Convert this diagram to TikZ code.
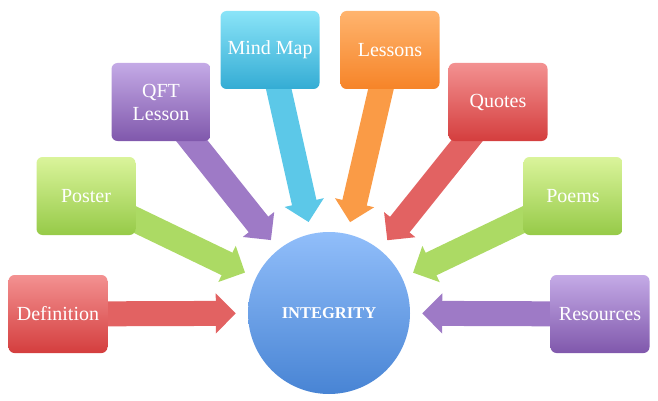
\documentclass[tikz,border=0pt]{standalone}
\usepackage{fontspec}
\setmainfont{Liberation Serif}
\usetikzlibrary{arrows.meta,backgrounds}

\definecolor{redtop}{RGB}{243,145,145}
\definecolor{redbot}{RGB}{212,62,62}
\definecolor{redarr}{RGB}{226,98,98}
\definecolor{greentop}{RGB}{218,244,155}
\definecolor{greenbot}{RGB}{150,202,72}
\definecolor{greenarr}{RGB}{172,218,100}
\definecolor{purpletop}{RGB}{196,170,230}
\definecolor{purplebot}{RGB}{128,88,172}
\definecolor{purplearr}{RGB}{158,122,198}
\definecolor{cyantop}{RGB}{138,228,248}
\definecolor{cyanbot}{RGB}{52,172,212}
\definecolor{cyanarr}{RGB}{92,200,232}
\definecolor{orangetop}{RGB}{255,180,110}
\definecolor{orangebot}{RGB}{246,132,40}
\definecolor{orangearr}{RGB}{250,155,70}
\definecolor{bluetop}{RGB}{145,190,250}
\definecolor{bluebot}{RGB}{72,132,212}

\begin{document}
\begin{tikzpicture}[x=1pt, y=-1pt,
        topic/.style={rectangle, rounded corners=6pt, minimum width=99pt, minimum height=78pt,
                text=white, align=center, inner sep=2pt, font=\fontsize{20}{23}\selectfont,
                top color=#1top, bottom color=#1bot},
        hub/.style={circle, minimum size=162pt, inner sep=0pt, text=white,
                font=\bfseries\fontsize{16.5}{19}\selectfont, top color=bluetop, bottom color=bluebot},
        feed/.style={draw=#1arr, line width=25pt, -{Triangle[length=20pt,width=39pt]}, shorten >=12pt}]
    \useasboundingbox (0,0) rectangle (658,401);

    \node[hub] (integrity) at (329,313) {INTEGRITY};

    \node[topic=red] (definition) at (58,314) {Definition};
    \node[topic=green] (poster) at (86,196) {Poster};
    \node[topic=purple] (qft) at (161,102) {QFT\\Lesson};
    \node[topic=cyan] (mindmap) at (270,50) {Mind Map};
    \node[topic=orange] (lessons) at (390,50) {Lessons};
    \node[topic=red] (quotes) at (498,102) {Quotes};
    \node[topic=green] (poems) at (573,196) {Poems};
    \node[topic=purple] (resources) at (600,314) {Resources};

    \begin{scope}[on background layer]
        \draw[feed=red] (definition.center) -- (integrity);
        \draw[feed=green] (poster.center) -- (integrity);
        \draw[feed=purple] (qft.center) -- (integrity);
        \draw[feed=cyan] (mindmap.center) -- (integrity);
        \draw[feed=orange] (lessons.center) -- (integrity);
        \draw[feed=red] (quotes.center) -- (integrity);
        \draw[feed=green] (poems.center) -- (integrity);
        \draw[feed=purple] (resources.center) -- (integrity);
    \end{scope}
\end{tikzpicture}
\end{document}
